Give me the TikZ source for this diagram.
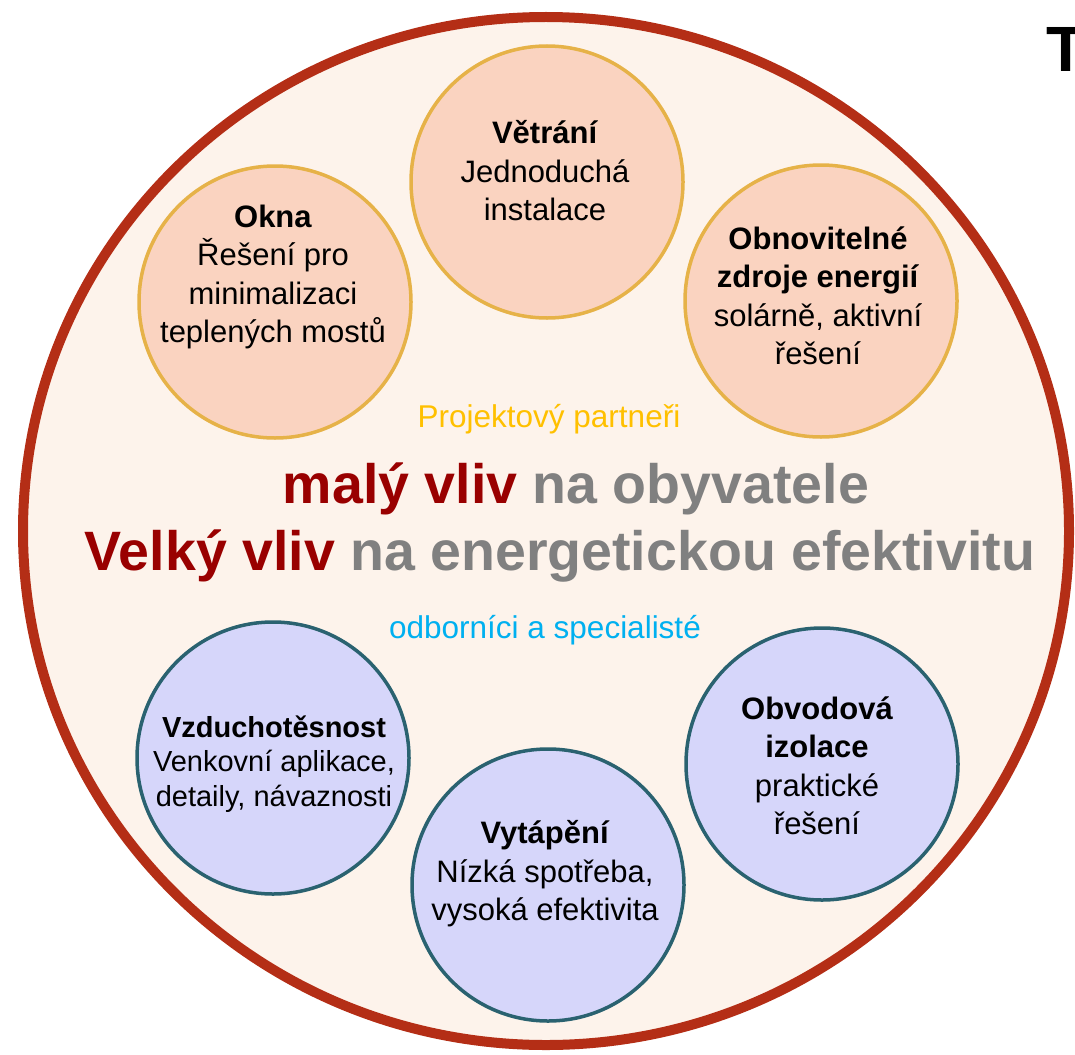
\documentclass[tikz,border=0pt]{standalone}
\usepackage{fontspec}
\setmainfont{Liberation Sans}
\usepackage{xcolor}
\usetikzlibrary{shapes.geometric}
\definecolor{rimred}{RGB}{180,46,22}
\definecolor{rimfill}{RGB}{253,243,235}
\definecolor{ballgold}{RGB}{230,178,72}
\definecolor{ballpeach}{RGB}{250,211,192}
\definecolor{ballteal}{RGB}{42,98,112}
\definecolor{balllav}{RGB}{214,214,250}
\definecolor{headred}{RGB}{153,0,0}
\definecolor{headgray}{RGB}{128,128,128}
\definecolor{partgold}{RGB}{255,192,0}
\definecolor{expcyan}{RGB}{0,176,240}

\begin{document}
\begin{tikzpicture}[x=1pt,y=-1pt,
  topball/.style={circle,draw=ballgold,fill=ballpeach,line width=3.5pt,minimum size=272pt,inner sep=0pt},
  lowball/.style={circle,draw=ballteal,fill=balllav,line width=3.5pt,minimum size=272pt,inner sep=0pt},
  balltext/.style={align=center,inner sep=0pt,font=\fontsize{31}{38.5}\selectfont}]
  \useasboundingbox (0,0) rectangle (1075,1054);
  \node[ellipse,draw=rimred,fill=rimfill,line width=10pt,minimum width=1046pt,minimum height=1028pt,inner sep=0pt] (rim) at (546,531) {};
  \node[anchor=base west,inner sep=0pt,font=\bfseries\fontsize{64}{76}\selectfont] (title) at (1046,72) {T};

  \node[topball] (okna) at (275,302) {};
  \node[topball] (vetrani) at (547,182) {};
  \node[topball] (obnov) at (821,301) {};
  \node[lowball] (vzduch) at (273,758) {};
  \node[lowball] (vytap) at (548,885) {};
  \node[lowball] (obvod) at (822,764) {};

  \node[balltext] (okna-t) at (273,277) {\textbf{Okna}\\Řešení pro\\minimalizaci\\teplených mostů};
  \node[balltext] (vetrani-t) at (545,171) {\textbf{Větrání}\\Jednoduchá\\instalace};
  \node[balltext] (obnov-t) at (818,296) {\textbf{Obnovitelné}\\\textbf{zdroje energií}\\solárně, aktivní\\řešení};
  \node[balltext,font=\fontsize{29}{34.5}\selectfont] (vzduch-t) at (274,764) {\textbf{Vzduchotěsnost}\\Venkovní aplikace,\\detaily, návaznosti};
  \node[balltext] (vytap-t) at (545,874) {\textbf{Vytápění}\\Nízká spotřeba,\\vysoká efektivita};
  \node[balltext] (obvod-t) at (817,766) {\textbf{Obvodová}\\\textbf{izolace}\\praktické\\řešení};

  \node[anchor=base,inner sep=0pt,text=partgold,font=\fontsize{31.5}{38}\selectfont] (partneri) at (549,427) {Projektový partneři};
  \node[anchor=base,inner sep=0pt,font=\bfseries\fontsize{55.5}{66}\selectfont] (line-a) at (576,503) {\textcolor{headred}{malý vliv} \textcolor{headgray}{na obyvatele}};
  \node[anchor=base,inner sep=0pt,font=\bfseries\fontsize{55.5}{66}\selectfont] (line-b) at (560,570) {\textcolor{headred}{Velký vliv} \textcolor{headgray}{na energetickou efektivitu}};
  \node[anchor=base,inner sep=0pt,text=expcyan,font=\fontsize{31.5}{38}\selectfont] (odbornici) at (545,638) {odborníci a specialisté};
\end{tikzpicture}
\end{document}
